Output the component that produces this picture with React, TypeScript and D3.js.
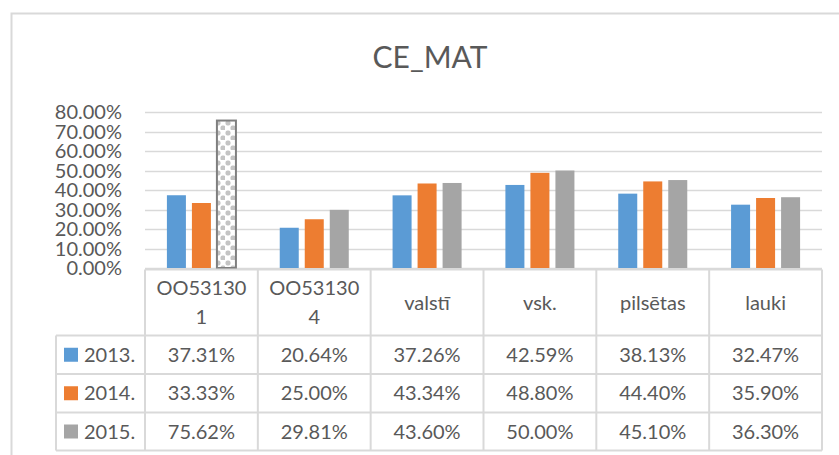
import React, { useEffect, useRef } from "react";
import * as d3 from "d3";

const title = "CE_MAT";
const categories = ["OO531301", "OO531304", "valstī", "vsk.", "pilsētas", "lauki"];
const categoryLines = [["OO53130", "1"], ["OO53130", "4"], ["valstī"], ["vsk."], ["pilsētas"], ["lauki"]];
const years = ["2013.", "2014.", "2015."];
const values2013 = [37.31, 20.64, 37.26, 42.59, 38.13, 32.47];
const values2014 = [33.33, 25.0, 43.34, 48.8, 44.4, 35.9];
const values2015 = [75.62, 29.81, 43.6, 50.0, 45.1, 36.3];
const yTicks = [0, 10, 20, 30, 40, 50, 60, 70, 80];

const colors = ["#5b9bd5", "#ed7d31", "#a5a5a5"];

export default function App() {
  const svgRef = useRef<SVGSVGElement>(null);

  useEffect(() => {
    const W = 839;
    const H = 455;
    const svg = d3.select(svgRef.current).attr("width", W).attr("height", H);
    svg.selectAll("*").remove();

    const series = [values2013, values2014, values2015];
    const font = "Lato, 'Open Sans', sans-serif";
    const textColor = "#595959";
    const lineColor = "#d9d9d9";

    // pattern for the highlighted bar
    const defs = svg.append("defs");
    const pat = defs
      .append("pattern")
      .attr("id", "dots")
      .attr("patternUnits", "userSpaceOnUse")
      .attr("width", 10)
      .attr("height", 10);
    pat.append("rect").attr("width", 10).attr("height", 10).attr("fill", "#fff");
    pat.append("rect").attr("x", 0.5).attr("y", 0.5).attr("width", 5).attr("height", 5).attr("rx", 2).attr("fill", "#c4c4c4");
    pat.append("rect").attr("x", 5.5).attr("y", 5.5).attr("width", 5).attr("height", 5).attr("rx", 2).attr("fill", "#c4c4c4");

    // outer frame
    svg
      .append("path")
      .attr("d", `M11.5,${H} V13.5 H${W}`)
      .attr("fill", "none")
      .attr("stroke", lineColor)
      .attr("stroke-width", 2);

    svg
      .append("text")
      .attr("x", 430)
      .attr("y", 68)
      .attr("text-anchor", "middle")
      .attr("font-family", font)
      .attr("font-size", 30)
      .attr("fill", textColor)
      .text(title);

    // scales
    const x = d3.scaleBand().domain(categories).range([145, 822]);
    const x1 = d3.scaleBand().domain(years).range([0, x.bandwidth()]).paddingInner(0.24).paddingOuter(0.876);
    const y = d3.scaleLinear().domain([0, 80]).range([268, 112]);

    // gridlines
    svg
      .append("g")
      .selectAll("line")
      .data(yTicks)
      .join("line")
      .attr("x1", 145)
      .attr("x2", 822)
      .attr("y1", (d) => Math.round(y(d)) + 0.5)
      .attr("y2", (d) => Math.round(y(d)) + 0.5)
      .attr("stroke", lineColor)
      .attr("stroke-width", 1.5);

    // y labels
    svg
      .append("g")
      .selectAll("text")
      .data(yTicks)
      .join("text")
      .attr("x", 122)
      .attr("y", (d) => y(d))
      .attr("dy", "0.36em")
      .attr("text-anchor", "end")
      .attr("font-family", font)
      .attr("font-size", 20)
      .attr("fill", textColor)
      .text((d) => d.toFixed(2) + "%");

    // bars
    const groups = svg
      .append("g")
      .selectAll("g")
      .data(categories)
      .join("g")
      .attr("transform", (d) => `translate(${x(d)},0)`);

    groups
      .selectAll("rect")
      .data((d, i) => years.map((yr, j) => ({ yr, j, i, v: series[j][i] })))
      .join("rect")
      .attr("x", (d) => x1(d.yr)!)
      .attr("width", x1.bandwidth())
      .attr("y", (d) => y(d.v))
      .attr("height", (d) => y(0) - y(d.v))
      .attr("fill", (d) => (d.i === 0 && d.j === 2 ? "url(#dots)" : colors[d.j]))
      .attr("stroke", (d) => (d.i === 0 && d.j === 2 ? "#7f7f7f" : "none"))
      .attr("stroke-width", 2);

    // data table
    const headerTop = 269.5;
    const rowLines = [335.5, 374, 412.5, 450.5];
    const table = svg.append("g").attr("stroke", lineColor).attr("stroke-width", 2).attr("fill", "none");
    table.append("line").attr("x1", 145).attr("x2", 822).attr("y1", headerTop).attr("y2", headerTop);
    rowLines.forEach((ry) => {
      table.append("line").attr("x1", 56).attr("x2", 822).attr("y1", ry).attr("y2", ry);
    });
    table.append("line").attr("x1", 56).attr("x2", 56).attr("y1", rowLines[0]).attr("y2", rowLines[3]);
    const colEdges = categories.map((c) => x(c)!).concat([822]);
    colEdges.forEach((cx) => {
      table.append("line").attr("x1", cx).attr("x2", cx).attr("y1", headerTop).attr("y2", rowLines[3]);
    });

    // header labels
    categories.forEach((c, i) => {
      const lines = categoryLines[i];
      const cx = x(c)! + x.bandwidth() / 2;
      const mid = (headerTop + rowLines[0]) / 2;
      const lh = 29;
      lines.forEach((ln, k) => {
        svg
          .append("text")
          .attr("x", cx)
          .attr("y", mid + (k - (lines.length - 1) / 2) * lh)
          .attr("dy", "0.36em")
          .attr("text-anchor", "middle")
          .attr("font-family", font)
          .attr("font-size", 20)
          .attr("fill", textColor)
          .text(ln);
      });
    });

    // rows
    years.forEach((yr, j) => {
      const mid = (rowLines[j] + rowLines[j + 1]) / 2;
      svg
        .append("rect")
        .attr("x", 64)
        .attr("y", mid - 7)
        .attr("width", 14)
        .attr("height", 14)
        .attr("fill", colors[j]);
      svg
        .append("text")
        .attr("x", 84)
        .attr("y", mid)
        .attr("dy", "0.36em")
        .attr("font-family", font)
        .attr("font-size", 20)
        .attr("fill", textColor)
        .text(yr);
      categories.forEach((c, i) => {
        svg
          .append("text")
          .attr("x", x(c)! + x.bandwidth() / 2)
          .attr("y", mid)
          .attr("dy", "0.36em")
          .attr("text-anchor", "middle")
          .attr("font-family", font)
          .attr("font-size", 20)
          .attr("fill", textColor)
          .text(series[j][i].toFixed(2) + "%");
      });
    });
  }, []);

  return (
    <div>
      <svg ref={svgRef} style={{ position: "absolute", left: 0, top: 0, background: "#fff" }}></svg>
    </div>
  );
}
